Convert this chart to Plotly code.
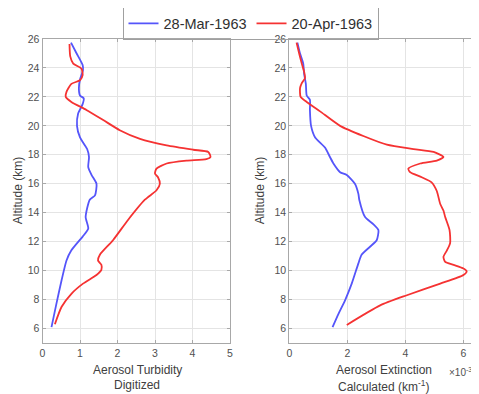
import plotly.graph_objects as go

# ---- data ----
# Left panel: Aerosol Turbidity (digitized)
turb_mar_x = [0.76, 0.91, 1.07, 1.08, 1.00, 0.97, 1.00, 1.10, 1.07, 0.95, 0.92, 1.00, 1.19, 1.24, 1.22, 1.31, 1.44, 1.40, 1.26, 1.15, 1.22, 1.07, 0.77, 0.64, 0.51, 0.37, 0.24]
turb_mar_alt = [25.75, 25.0, 24.2, 23.85, 23.2, 22.6, 22.1, 21.9, 21.5, 20.85, 20.0, 19.2, 18.4, 17.85, 17.15, 16.6, 16.0, 15.2, 14.9, 13.7, 12.9, 12.35, 11.4, 10.7, 9.35, 7.7, 6.1]

turb_apr_x = [0.72, 0.74, 0.82, 1.04, 1.07, 1.00, 0.77, 0.64, 0.62, 0.77, 1.17, 1.62, 2.06, 2.60, 3.31, 4.02, 4.42, 4.48, 4.37, 3.84, 3.31, 3.04, 3.00, 3.08, 3.13, 3.04, 2.73, 2.28, 1.88, 1.53, 1.48, 1.57, 1.57, 1.44, 1.08, 0.77, 0.51, 0.33]
turb_apr_alt = [25.65, 24.8, 24.3, 23.95, 23.5, 23.15, 22.9, 22.35, 22.0, 21.65, 21.1, 20.4, 19.7, 19.1, 18.65, 18.35, 18.2, 17.85, 17.7, 17.6, 17.4, 17.05, 16.7, 16.45, 16.0, 15.55, 14.9, 13.5, 12.1, 11.1, 10.7, 10.4, 10.05, 9.7, 9.1, 8.4, 7.5, 6.3]

# Right panel: Aerosol Extinction (calculated), in units of 1e-3 km^-1
ext_mar_x = [0.28, 0.37, 0.48, 0.51, 0.57, 0.60, 0.71, 0.71, 0.75, 0.89, 1.23, 1.40, 1.52, 1.75, 1.98, 2.26, 2.38, 2.41, 2.61, 2.90, 3.07, 3.01, 2.78, 2.49, 2.38, 2.15, 1.92, 1.69, 1.49]
ext_mar_alt = [25.75, 25.0, 24.3, 23.6, 22.9, 22.1, 21.8, 21.1, 20.0, 19.2, 18.5, 17.85, 17.4, 16.8, 16.6, 16.0, 15.3, 14.9, 13.7, 13.2, 12.8, 12.1, 11.65, 11.1, 10.5, 9.1, 7.95, 7.0, 6.1]

ext_apr_x = [0.25, 0.34, 0.43, 0.51, 0.54, 0.43, 0.37, 0.39, 0.60, 1.06, 1.75, 2.55, 3.36, 4.28, 4.97, 5.31, 5.08, 4.51, 4.10, 4.16, 4.56, 4.90, 5.08, 5.20, 5.31, 5.37, 5.52, 5.54, 5.43, 5.31, 5.37, 5.66, 6.00, 6.11, 6.00, 5.20, 4.05, 3.13, 1.98]
ext_apr_alt = [25.75, 25.0, 24.3, 23.75, 23.3, 22.95, 22.6, 22.0, 21.65, 21.0, 20.0, 19.3, 18.7, 18.4, 18.2, 17.85, 17.6, 17.4, 17.05, 16.8, 16.45, 16.1, 15.5, 14.6, 14.15, 13.7, 12.8, 11.9, 11.4, 10.95, 10.6, 10.4, 10.15, 9.95, 9.7, 9.1, 8.3, 7.6, 6.25]

labels = ["28-Mar-1963", "20-Apr-1963"]
y_ticks = [6, 8, 10, 12, 14, 16, 18, 20, 22, 24, 26]
turb_ticks = [0, 1, 2, 3, 4, 5]
ext_ticks = [0, 2, 4, 6]

BLUE = "rgb(85,85,250)"
RED = "rgb(245,50,50)"
FONT = "Liberation Sans, Arial, sans-serif"

fig = go.Figure()
line_kw = dict(width=1.8, shape="spline", smoothing=0.6)
fig.add_trace(go.Scatter(x=turb_mar_x, y=turb_mar_alt, mode="lines", name=labels[0],
                         line=dict(color=BLUE, **line_kw), xaxis="x", yaxis="y"))
fig.add_trace(go.Scatter(x=turb_apr_x, y=turb_apr_alt, mode="lines", name=labels[1],
                         line=dict(color=RED, **line_kw), xaxis="x", yaxis="y"))
fig.add_trace(go.Scatter(x=ext_mar_x, y=ext_mar_alt, mode="lines", name=labels[0], showlegend=False,
                         line=dict(color=BLUE, **line_kw), xaxis="x2", yaxis="y2"))
fig.add_trace(go.Scatter(x=ext_apr_x, y=ext_apr_alt, mode="lines", name=labels[1], showlegend=False,
                         line=dict(color=RED, **line_kw), xaxis="x2", yaxis="y2"))

# The page places the figure 8px in from the top-left corner (body margin)
OFF = 8
W, H = 479 - OFF, 394 - OFF
top, bottom = 39 - OFF, 342.7 - OFF

def px_x(p):  # page pixel -> paper x
    return (p - OFF) / W

def px_y(p):  # page pixel -> paper y
    return (bottom - (p - OFF)) / (bottom - top)

axis_common = dict(showgrid=True, gridcolor="#e4e4e4", gridwidth=1,
                   showline=True, linecolor="#a8a8a8", linewidth=1, mirror="ticks",
                   ticks="inside", ticklen=3, tickcolor="#a8a8a8",
                   tickfont=dict(family=FONT, size=10.5, color="#505050"),
                   zeroline=False, automargin=False)

fig.update_layout(
    width=W, height=H,
    margin=dict(l=0, r=0, t=top, b=H - bottom, pad=0, autoexpand=False),
    paper_bgcolor="white", plot_bgcolor="white",
    font=dict(family=FONT, color="#404040"),
    xaxis=dict(domain=[px_x(42.5), px_x(230)], range=[0, 5], tickvals=turb_ticks, anchor="y", **axis_common),
    yaxis=dict(domain=[0, 1], range=[5, 26], tickvals=y_ticks, anchor="x", **axis_common),
    xaxis2=dict(domain=[px_x(289.3), px_x(478)], range=[0, 6.5], tickvals=ext_ticks, anchor="y2", **axis_common),
    yaxis2=dict(domain=[0, 1], range=[5, 26], tickvals=y_ticks, anchor="x2", **axis_common),
    showlegend=True,
    legend=dict(orientation="h", x=px_x(250.5), xanchor="center", xref="paper",
                y=px_y(23.5), yanchor="middle",
                bordercolor="#a0a0a0", borderwidth=1, bgcolor="rgba(255,255,255,0)",
                font=dict(family=FONT, size=14.5, color="#303030"),
                itemwidth=30, tracegroupgap=0),
)

ann_font = dict(family=FONT, size=12, color="#404040")
annotations = [
    dict(text="Altitude (km)", x=px_x(18), y=px_y(191), textangle=-90),
    dict(text="Altitude (km)", x=px_x(260), y=px_y(191), textangle=-90),
    dict(text="Aerosol Turbidity", x=px_x(137), y=px_y(370)),
    dict(text="Digitized", x=px_x(137), y=px_y(385)),
    dict(text="Aerosol Extinction", x=px_x(384), y=px_y(370)),
    dict(text="Calculated (km<sup>-1</sup>)", x=px_x(383), y=px_y(386)),
]
for a in annotations:
    fig.add_annotation(xref="paper", yref="paper", showarrow=False,
                       xanchor="center", yanchor="middle", font=ann_font, **a)
fig.add_annotation(xref="paper", yref="paper", showarrow=False, x=px_x(447), y=px_y(372),
                   xanchor="left", yanchor="middle", text="×10<sup>-3</sup>",
                   font=dict(family=FONT, size=10, color="#505050"))

fig.write_html("out.html")
